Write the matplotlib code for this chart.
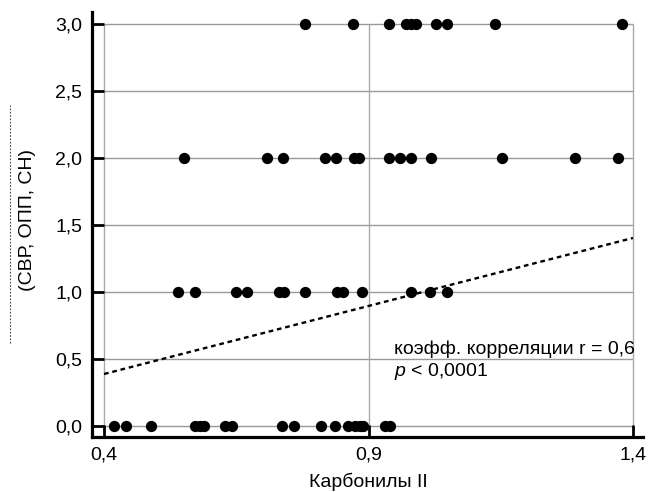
import matplotlib
matplotlib.use('Agg')
import matplotlib.pyplot as plt
from matplotlib.lines import Line2D

plt.rcParams['font.family'] = ['Liberation Sans', 'DejaVu Sans']
plt.rcParams['mathtext.fontset'] = 'custom'
plt.rcParams['mathtext.it'] = 'Liberation Sans:italic'
plt.rcParams['mathtext.rm'] = 'Liberation Sans'

# значения по строкам (оценка по рисунку)
x_score0 = [0.419, 0.441, 0.489, 0.572, 0.581, 0.589, 0.629, 0.641, 0.737,
            0.759, 0.810, 0.837, 0.862, 0.875, 0.884, 0.890, 0.931, 0.941]
x_score1 = [0.540, 0.572, 0.649, 0.670, 0.730, 0.740, 0.779, 0.841, 0.851,
            0.887, 0.980, 1.016, 1.048]
x_score2 = [0.551, 0.708, 0.739, 0.818, 0.839, 0.872, 0.882, 0.938, 0.960,
            0.980, 1.018, 1.152, 1.290, 1.372]
x_score3 = [0.779, 0.870, 0.939, 0.970, 0.981, 0.990, 1.027, 1.048, 1.140, 1.380]
scores = [0, 1, 2, 3]

trend_x = [0.4, 1.4]
trend_y = [0.388, 1.403]

xticks = [0.4, 0.9, 1.4]
xtick_labels = ['0,4', '0,9', '1,4']
yticks = [0.0, 0.5, 1.0, 1.5, 2.0, 2.5, 3.0]
ytick_labels = ['0,0', '0,5', '1,0', '1,5', '2,0', '2,5', '3,0']


def run():
    fig = plt.figure(figsize=(6.49, 4.92), dpi=100)
    ax = fig.add_axes([0.1418, 0.1118, 0.849, 0.864])

    ax.hlines(yticks, xticks[0], xticks[-1], colors='#999999', lw=1.0, zorder=1)
    ax.vlines(xticks, yticks[0], yticks[-1], colors='#aaaaaa', lw=1.0, zorder=1)

    for xs, s in zip([x_score0, x_score1, x_score2, x_score3], scores):
        ax.scatter(xs, [s] * len(xs), s=66, color='black', zorder=3, linewidths=0)

    ax.plot(trend_x, trend_y, color='black', lw=1.7, linestyle=(0, (2, 1.6)), zorder=2)

    ax.set_xlim(0.3773, 1.419)
    ax.set_ylim(-0.082, 3.0896)
    ax.set_xticks(xticks)
    ax.set_xticklabels(xtick_labels)
    ax.set_yticks(yticks)
    ax.set_yticklabels(ytick_labels)

    for side in ['top', 'right']:
        ax.spines[side].set_visible(False)
    for side in ['left', 'bottom']:
        ax.spines[side].set_linewidth(2.3)
    ax.tick_params(direction='in', length=8.5, width=2.0, labelsize=14, pad=7)

    ax.text(0.948, 0.575, 'коэфф. корреляции r = 0,6', fontsize=14, va='center', ha='left')
    ax.text(0.948, 0.403, '$p$ < 0,0001', fontsize=14, va='center', ha='left')

    fig.text(368 / 649, 1 - 482 / 492, 'Карбонилы II', fontsize=14, ha='center', va='center')
    fig.text(27 / 649, 1 - 220 / 492, '(СВР, ОПП, СН)', fontsize=14, rotation=90,
             ha='center', va='center')
    fig.add_artist(Line2D([10 / 649, 10 / 649], [1 - 343 / 492, 1 - 105 / 492],
                          transform=fig.transFigure, color='#444444', lw=0.8,
                          linestyle=(0, (1.5, 1.5))))

    fig.savefig('out.png', dpi=100)
    plt.close(fig)


if __name__ == '__main__':
    run()
